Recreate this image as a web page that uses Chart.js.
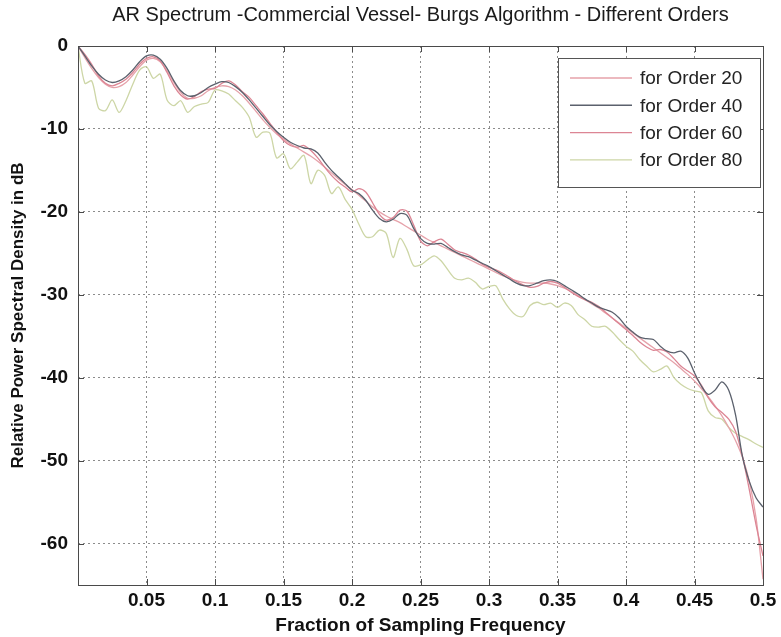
<!DOCTYPE html>
<html>
<head>
<meta charset="utf-8">
<title>AR Spectrum</title>
<script src="https://cdn.jsdelivr.net/npm/chart.js@4.4.1/dist/chart.umd.min.js"></script>
<style>
  html, body { margin: 0; padding: 0; background: #fff; }
  canvas { display: block; }
</style>
</head>
<body>
<canvas id="arChart" width="781" height="637"></canvas>
<script>
// frequency grid (fraction of sampling frequency)
const freq = [
  0.000, 0.005, 0.010, 0.015, 0.020, 0.025, 0.030, 0.035, 0.040, 0.045,
  0.050, 0.055, 0.060, 0.065, 0.070, 0.075, 0.080, 0.085, 0.090, 0.095,
  0.100, 0.105, 0.110, 0.115, 0.120, 0.125, 0.130, 0.135, 0.140, 0.145,
  0.150, 0.155, 0.160, 0.165, 0.170, 0.175, 0.180, 0.185, 0.190, 0.195,
  0.200, 0.205, 0.210, 0.215, 0.220, 0.225, 0.230, 0.235, 0.240, 0.245,
  0.250, 0.255, 0.260, 0.265, 0.270, 0.275, 0.280, 0.285, 0.290, 0.295,
  0.300, 0.305, 0.310, 0.315, 0.320, 0.325, 0.330, 0.335, 0.340, 0.345,
  0.350, 0.355, 0.360, 0.365, 0.370, 0.375, 0.380, 0.385, 0.390, 0.395,
  0.400, 0.405, 0.410, 0.415, 0.420, 0.425, 0.430, 0.435, 0.440, 0.445,
  0.450, 0.455, 0.460, 0.465, 0.470, 0.475, 0.480, 0.485, 0.490, 0.495,
  0.500
];

// relative PSD in dB, one array per model order
const order20 = [
  0, -1.4, -2.7, -3.8, -4.6, -5.0, -4.9, -4.4, -3.5, -2.5,
  -1.7, -1.5, -1.9, -3.0, -4.4, -5.6, -6.3, -6.3, -6.0, -5.4,
  -5.0, -4.8, -4.9, -5.3, -6.0, -6.9, -7.9, -8.9, -9.8, -10.6,
  -11.2, -11.8, -12.3, -12.8, -13.3, -13.9, -14.6, -15.3, -16.0, -16.7,
  -17.3, -18.0, -18.7, -19.4, -20.0, -20.5, -20.9, -21.3, -21.8, -22.3,
  -22.8, -23.3, -23.7, -24.1, -24.5, -24.9, -25.3, -25.7, -26.1, -26.5,
  -26.9, -27.3, -27.7, -28.0, -28.3, -28.5, -28.6, -28.6, -28.6, -28.7,
  -28.9, -29.2, -29.6, -30.1, -30.6, -31.1, -31.6, -32.2, -32.8, -33.4,
  -34.0, -34.6, -35.2, -35.8, -36.4, -37.0, -37.6, -38.2, -38.9, -39.6,
  -40.4, -41.3, -42.3, -43.4, -44.6, -46.0, -47.6, -49.6, -52.5, -57.0,
  -64.3
];

const order40 = [
  0, -1.2, -2.4, -3.4, -4.1, -4.4, -4.2, -3.7, -2.9, -1.9,
  -1.2, -1.1, -1.6, -2.7, -4.2, -5.4, -6.0, -6.0, -5.6, -5.0,
  -4.6, -4.3, -4.4, -4.9, -5.6, -6.5, -7.5, -8.5, -9.5, -10.3,
  -11.0, -11.6, -12.0, -12.3, -12.4, -12.9, -14.0, -15.0, -15.8, -16.6,
  -17.4, -17.8, -18.6, -19.8, -20.8, -21.2, -20.9, -20.2, -20.4, -22.0,
  -23.2, -23.8, -23.9, -23.8, -24.3, -24.8, -25.2, -25.4, -25.8, -26.2,
  -26.6, -27.1, -27.6, -28.1, -28.6, -28.9, -28.9, -28.6, -28.3, -28.2,
  -28.4, -28.9, -29.4, -29.9, -30.5, -31.0, -31.5, -31.8, -32.1, -32.8,
  -33.8, -34.5, -35.1, -35.3, -35.4, -36.2, -36.8, -37.0, -36.8, -37.6,
  -39.4, -41.0, -42.0, -41.5, -40.5, -41.5, -44.5, -49.5, -52.5, -54.5,
  -55.6
];

const order60 = [
  0, -1.0, -2.2, -3.6, -4.5, -4.8, -4.5, -4.0, -3.2, -2.2,
  -1.5, -1.3, -1.8, -3.2, -4.8, -5.9, -6.4, -6.1, -5.5, -5.2,
  -5.1, -4.5, -4.2, -4.7, -5.5, -6.2, -7.2, -8.2, -9.3, -10.4,
  -11.4, -12.0, -12.2, -12.0, -12.6, -13.5, -14.6, -15.6, -16.4, -17.0,
  -17.6, -17.2, -17.6, -18.9, -20.3, -21.0, -20.7, -19.8, -19.9, -21.6,
  -23.5, -24.1, -23.6, -23.3, -23.9, -24.6, -24.9, -25.2, -25.7, -26.3,
  -26.7, -27.0, -27.4, -27.9, -28.4, -28.8, -29.1, -29.0, -28.6, -28.4,
  -28.6, -29.1, -29.7, -30.2, -30.6, -30.9, -31.4, -32.1, -32.8, -33.5,
  -34.2, -34.9, -35.7, -36.3, -36.7, -36.6, -36.9, -37.7, -38.6, -39.2,
  -39.8, -40.9, -42.4, -43.5, -44.2, -45.0, -46.5, -49.5, -53.5, -57.8,
  -61.5
];

const order80 = [
  0, -4.5, -4.2, -7.5, -7.8, -6.5, -8.0, -6.6, -4.6, -2.9,
  -2.5, -3.9, -3.4, -6.5, -7.2, -6.6, -8.0, -7.3, -7.0, -6.8,
  -5.3, -5.4, -5.8, -6.6, -7.4, -8.6, -11.0, -10.4, -10.5, -13.5,
  -13.0, -14.8, -14.0, -13.2, -16.6, -15.0, -15.6, -17.8, -17.0, -18.5,
  -19.7, -21.5, -23.0, -23.0, -22.2, -22.6, -25.5, -23.2, -24.5, -26.5,
  -26.4, -25.8, -25.3, -25.9, -27.0, -28.0, -28.2, -28.0, -28.5, -29.3,
  -29.0, -28.9, -30.5, -31.7, -32.5, -32.6, -31.3, -30.9, -31.2, -31.0,
  -31.5, -31.0, -31.3, -32.4, -33.0, -33.8, -33.9, -33.8, -34.5, -35.4,
  -36.2, -36.8, -37.8, -38.6, -39.3, -39.0, -38.6, -40.0, -40.8, -41.3,
  -41.6, -41.8, -44.0, -44.8, -45.0, -46.0, -46.7, -47.1, -47.5, -48.0,
  -48.4
];

const seriesNames = ['for Order 20', 'for Order 40', 'for Order 60', 'for Order 80'];
const seriesData = [order20, order40, order60, order80];
const seriesColors = ['#e6a2aa', '#5b616d', '#dc8594', '#cdd6a6'];
const drawOrder = [3, 1, 2, 4];

const FONT = "'Liberation Sans', Arial, sans-serif";

function toPoints(values) {
  return freq.map((f, i) => ({ x: f, y: values[i] }));
}

// plot box, inward tick marks and the legend, MATLAB style
const matlabFrame = {
  id: 'matlabFrame',
  afterDatasetsDraw(chart) {
    const { ctx, chartArea: a, scales } = chart;
    ctx.save();
    ctx.strokeStyle = '#4a4a4a';
    ctx.lineWidth = 1;
    ctx.beginPath();
    scales.x.ticks.forEach(t => {
      const px = Math.round(scales.x.getPixelForValue(t.value)) + 0.5;
      ctx.moveTo(px, a.bottom); ctx.lineTo(px, a.bottom - 6);
      ctx.moveTo(px, a.top); ctx.lineTo(px, a.top + 6);
    });
    scales.y.ticks.forEach(t => {
      const py = Math.round(scales.y.getPixelForValue(t.value)) + 0.5;
      ctx.moveTo(a.left, py); ctx.lineTo(a.left + 6, py);
      ctx.moveTo(a.right, py); ctx.lineTo(a.right - 6, py);
    });
    ctx.stroke();
    ctx.strokeRect(Math.round(a.left) + 0.5, Math.round(a.top) + 0.5,
      Math.round(a.right - a.left), Math.round(a.bottom - a.top));

    // legend box in the upper right corner
    const bx = 558, by = 58, bw = 202, bh = 129;
    ctx.fillStyle = '#ffffff';
    ctx.fillRect(bx, by, bw, bh);
    ctx.strokeStyle = '#555';
    ctx.strokeRect(bx + 0.5, by + 0.5, bw, bh);
    ctx.font = '19px ' + FONT;
    ctx.textBaseline = 'middle';
    ctx.textAlign = 'left';
    chart.data.datasets.forEach((ds, i) => {
      const y = by + 20 + i * 27.3;
      ctx.strokeStyle = ds.borderColor;
      ctx.lineWidth = 1.4;
      ctx.beginPath();
      ctx.moveTo(570, y); ctx.lineTo(632, y);
      ctx.stroke();
      ctx.fillStyle = '#222';
      ctx.fillText(ds.label, 640, y + 1);
    });
    ctx.restore();
  }
};

new Chart(document.getElementById('arChart'), {
  type: 'line',
  data: {
    datasets: seriesNames.map((name, i) => ({
      label: name,
      data: toPoints(seriesData[i]),
      borderColor: seriesColors[i],
      borderWidth: 1.3,
      pointRadius: 0,
      tension: 0.3,
      order: drawOrder[i]
    }))
  },
  options: {
    responsive: false,
    animation: false,
    layout: { padding: { left: 0, right: 18, top: 0, bottom: 0 } },
    plugins: {
      legend: { display: false },
      tooltip: { enabled: false },
      title: {
        display: true,
        fullSize: false,
        text: 'AR Spectrum -Commercial Vessel- Burgs Algorithm - Different Orders',
        color: '#1a1a1a',
        font: { family: FONT, size: 20, weight: 'normal' },
        padding: { top: 3, bottom: 19 }
      }
    },
    scales: {
      x: {
        type: 'linear',
        min: 0,
        max: 0.5,
        afterFit: s => { s.height = 52; },
        ticks: {
          stepSize: 0.05,
          autoSkip: false,
          maxRotation: 0,
          padding: 4,
          color: '#111',
          font: { family: FONT, size: 19, weight: 'bold' },
          callback: v => (Math.abs(v) < 1e-9 ? '' : +v.toFixed(2))
        },
        grid: { color: '#8c8c8c', lineWidth: 1, drawTicks: false },
        border: { display: false, dash: [2, 3] },
        title: {
          display: true,
          text: 'Fraction of Sampling Frequency',
          color: '#111',
          font: { family: FONT, size: 19, weight: 'bold' },
          padding: { top: 0, bottom: 0 }
        }
      },
      y: {
        min: -65,
        max: 0,
        afterFit: s => { s.width = 78; },
        ticks: {
          stepSize: 10,
          padding: 10,
          color: '#111',
          font: { family: FONT, size: 19, weight: 'bold' },
          callback: v => (v === -65 ? '' : v)
        },
        grid: { color: '#8c8c8c', lineWidth: 1, drawTicks: false },
        border: { display: false, dash: [2, 3] },
        title: {
          display: true,
          text: 'Relative Power Spectral Density in dB',
          color: '#111',
          font: { family: FONT, size: 17, weight: 'bold' },
          padding: { top: 8, bottom: 0 }
        }
      }
    }
  },
  plugins: [matlabFrame]
});
</script>
</body>
</html>
